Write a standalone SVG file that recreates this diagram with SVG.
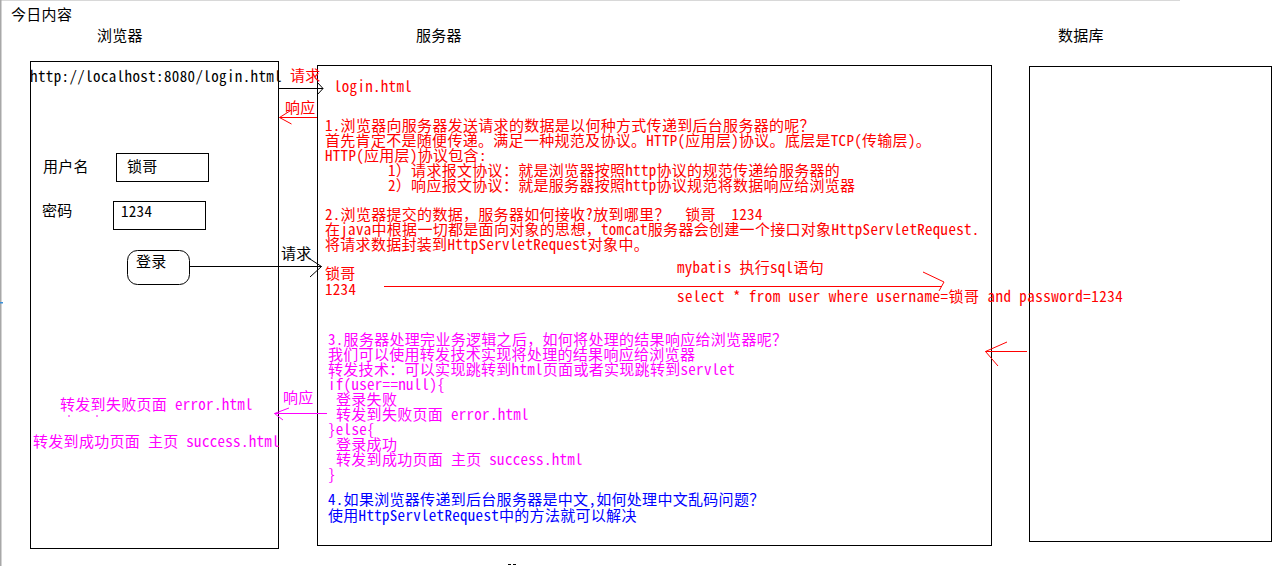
<svg xmlns="http://www.w3.org/2000/svg" width="1284" height="566" viewBox="0 0 1284 566">
<style>
text{font-family:"Noto Sans Mono CJK SC","Noto Sans CJK SC",monospace;font-size:15px;letter-spacing:0.3px;white-space:pre}
.k{fill:#000}
.r{fill:#ff0000}
.m{fill:#ff00ff}
.b{fill:#0000ff}
.box{fill:none;stroke:#000;stroke-width:1}
.ln{fill:none;stroke-width:1}
.lk{stroke:#000}
.lr{stroke:#ff0000}
.lm{stroke:#ff00ff}
</style>
<rect x="0" y="0" width="1284" height="566" fill="#fff"/>
<rect x="0" y="0" width="1180" height="1" fill="#d8d8d8"/>
<rect x="0" y="0" width="1.5" height="566" fill="#a8a8a8"/>
<rect x="0" y="302" width="3" height="1.5" fill="#3a8fd8"/>
<g id="title">
<text class="k" x="11" y="20" font-size="14">今日内容</text>
</g>
<g id="database">
<text class="k" x="1058" y="41">数据库</text>
<rect class="box" x="1029.5" y="66.5" width="242" height="475"/>
</g>
<g id="browser">
<text class="k" x="97" y="41">浏览器</text>
<rect class="box" x="30.5" y="61.5" width="248" height="487"/>
<text class="k" x="30" y="82" textLength="252">http://localhost:8080/login.html</text>
<text class="k" x="43" y="172">用户名</text>
<rect class="box" x="116.5" y="153.5" width="92" height="28"/>
<text class="k" x="127" y="172">锁哥</text>
<text class="k" x="42" y="216">密码</text>
<rect class="box" x="113.5" y="201.5" width="92" height="28"/>
<text class="k" x="121" y="217">1234</text>
<rect class="box" x="127.5" y="250.5" width="62" height="34" rx="10"/>
<text class="k" x="136" y="267">登录</text>
<text class="m" x="60" y="410">转发到失败页面 error.html</text>
<path class="ln lm" d="M69,415v2M97,415v2"/>
<text class="m" x="33" y="447">转发到成功页面 主页 success.html</text>
</g>
<g id="server">
<text class="k" x="416" y="41">服务器</text>
<rect class="box" x="317.5" y="65.5" width="674" height="480"/>
<text class="r" x="334" y="92">login.html</text>
<text class="r" x="325" y="131">1.浏览器向服务器发送请求的数据是以何种方式传递到后台服务器的呢？</text>
<text class="r" x="325" y="146">首先肯定不是随便传递。满足一种规范及协议。HTTP(应用层)协议。底层是TCP(传输层)。</text>
<text class="r" x="325" y="161">HTTP(应用层)协议包含:</text>
<text class="r" x="388" y="176">1）请求报文协议：就是浏览器按照http协议的规范传递给服务器的</text>
<text class="r" x="388" y="191">2）响应报文协议：就是服务器按照http协议规范将数据响应给浏览器</text>
<text class="r" x="325" y="220">2.浏览器提交的数据，服务器如何接收?放到哪里？  锁哥  1234</text>
<text class="r" x="325" y="235">在java中根据一切都是面向对象的思想，tomcat服务器会创建一个接口对象HttpServletRequest.</text>
<text class="r" x="325" y="250">将请求数据封装到HttpServletRequest对象中。</text>
<text class="r" x="325" y="279">锁哥</text>
<text class="r" x="325" y="295">1234</text>
<text class="r" x="677" y="273">mybatis 执行sql语句</text>
<text class="r" x="677" y="302" textLength="446">select * from user where username=锁哥 and password=1234</text>
<text class="m" x="328" y="345">3.服务器处理完业务逻辑之后，如何将处理的结果响应给浏览器呢？</text>
<text class="m" x="328" y="360">我们可以使用转发技术实现将处理的结果响应给浏览器</text>
<text class="m" x="328" y="375">转发技术：可以实现跳转到html页面或者实现跳转到servlet</text>
<text class="m" x="328" y="390">if(user==null){</text>
<text class="m" x="336" y="405">登录失败</text>
<text class="m" x="336" y="420">转发到失败页面 error.html</text>
<text class="m" x="328" y="435">}else{</text>
<text class="m" x="336" y="450">登录成功</text>
<text class="m" x="336" y="465">转发到成功页面 主页 success.html</text>
<text class="m" x="328" y="480">}</text>
<text class="b" x="328" y="505">4.如果浏览器传递到后台服务器是中文,如何处理中文乱码问题？</text>
<text class="b" x="328" y="521">使用HttpServletRequest中的方法就可以解决</text>
<path class="ln lk" d="M508,564.5h3M513,564.5h3"/>
</g>
<g id="connectors">
<g id="c-login-request">
<path class="ln lk" d="M279,88.5H323M317.5,82.5L323,88.5L317.5,94.5"/>
<text class="r" x="290" y="81">请求</text>
</g>
<g id="c-login-response">
<path class="ln lr" d="M317,117.5H279.5M291.5,110L279.5,117.5L291.5,124"/>
<text class="r" x="285" y="113">响应</text>
</g>
<g id="c-submit-request">
<path class="ln lk" d="M190,266.5H321.5M310,259L321.5,266.5L310,277"/>
<text class="k" x="281" y="259">请求</text>
</g>
<g id="c-sql">
<path class="ln lr" d="M384,286.5H942M923,272L944,282L939,291"/>
</g>
<g id="c-db-response">
<path class="ln lr" d="M1027,351.5H985.5M1007,342L985.5,351.5L998,366"/>
</g>
<g id="c-forward-response">
<path class="ln lm" d="M327,413.5H274.5M289,408L274.5,413.5L283,420"/>
<text class="m" x="283" y="403">响应</text>
</g>
</g>
</svg>
